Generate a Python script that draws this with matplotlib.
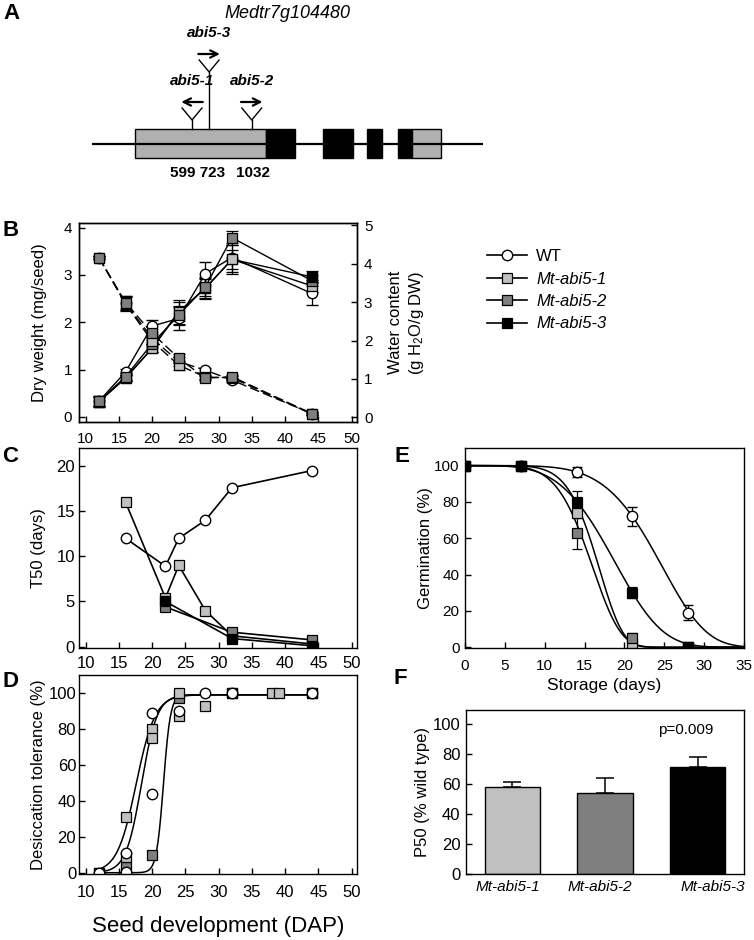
import numpy as np
import matplotlib
matplotlib.use('Agg')
import matplotlib.pyplot as plt
from matplotlib.lines import Line2D
from matplotlib.patches import Rectangle
import matplotlib.transforms as mtransforms

plt.rcParams['font.family'] = ['Liberation Sans', 'DejaVu Sans']
plt.rcParams['mathtext.fontset'] = 'custom'
plt.rcParams['mathtext.rm'] = 'Liberation Sans'
plt.rcParams['mathtext.default'] = 'regular'

# ---------------- data ----------------
# A: gene model of Medtr7g104480 (bp)
gene_span = [-126, 2709]
exon_start = [186, 1135, 1549, 1868, 2092, 2194]
exon_end = [1135, 1346, 1766, 1976, 2194, 2404]
exon_kind = ['utr', 'cds', 'cds', 'cds', 'cds', 'utr']
insert_pos = [599, 723, 1032]
insert_name = ['abi5-1', 'abi5-3', 'abi5-2']
insert_dir = [-1, 1, 1]
insert_tall = [False, True, False]

# B: dry weight (mg/seed) and water content (g H2O/g DW)
dap_b = [12, 16, 20, 24, 28, 32, 44]
dw_wt = [0.33, 0.95, 1.92, 2.08, 3.03, 3.37, 2.61]
dw_wt_err = [0.12, 0.07, 0.12, 0.25, 0.25, 0.30, 0.25]
dw_abi1 = [0.32, 0.82, 1.45, 2.22, 2.72, 3.33, 2.77]
dw_abi1_err = [0.10, 0.07, 0.08, 0.25, 0.22, 0.30, 0.12]
dw_abi2 = [0.33, 0.85, 1.55, 2.15, 2.75, 3.79, 2.88]
dw_abi2_err = [0.10, 0.07, 0.08, 0.20, 0.20, 0.15, 0.12]
dw_abi3 = [0.32, 0.82, 1.45, 2.22, 2.72, 3.33, 2.96]
dw_abi3_err = [0.10, 0.07, 0.08, 0.20, 0.20, 0.20, 0.12]
wc_wt = [4.16, 2.97, 2.06, 1.45, 1.23, 0.97, 0.10]
wc_abi1 = [4.16, 2.95, 1.98, 1.36, 1.05, 1.03, 0.09]
wc_abi2 = [4.16, 2.99, 2.19, 1.54, 1.02, 1.06, 0.10]
wc_err = [0.05, 0.18, 0.10, 0.12, 0.05, 0.05, 0.03]

# C: T50 (days)
dap_c_wt = [16, 22, 24, 28, 32, 44]
t50_wt = [12.0, 8.9, 12.0, 14.0, 17.6, 19.5]
dap_c_abi1 = [16, 22, 24, 28, 32, 44]
t50_abi1 = [16.0, 5.4, 9.0, 4.0, 1.2, 0.3]
dap_c_abi2 = [22, 32, 44]
t50_abi2 = [4.4, 1.6, 0.75]
dap_c_abi3 = [22, 32, 44]
t50_abi3 = [5.0, 0.9, 0.1]

# D: desiccation tolerance (%)
dap_d_wt = [12, 16, 16, 20, 20, 24, 28, 32, 44]
dt_wt = [0, 11, 0.5, 89, 44, 90, 100, 100, 100]
dap_d_abi1 = [12, 16, 16, 20, 20, 24, 24, 28, 32, 38, 39, 44]
dt_abi1 = [0, 31, 8.5, 80, 75, 100, 87, 93, 100, 100, 100, 100]
dap_d_abi2 = [12, 16, 20, 24, 32, 44]
dt_abi2 = [0, 3, 10, 97, 100, 100]
# fitted logistic curves: midpoint (DAP), slope, plateau (%)
dt_fit_mid = [17.6, 18.4, 21.7]
dt_fit_slope = [0.70, 0.85, 1.9]
dt_fit_top = [99, 99, 99]

# E: germination (%) after storage (days)
storage = [0, 7, 14, 21, 28]
germ_wt = [100, 100, 96.5, 72, 19]
germ_wt_err = [0, 1, 3, 5, 4]
germ_abi1 = [100, 100, 74, 1.7, 0]
germ_abi1_err = [0, 0, 3, 2, 0]
germ_abi2 = [100, 100, 63, 5, 0]
germ_abi2_err = [0, 0, 9, 3, 0]
germ_abi3 = [100, 100, 80, 30, 0]
germ_abi3_err = [0, 0, 6, 3, 0]
# fitted survival curves: scale (days), shape
germ_fit_scale = [25.7, 16.6, 17.3, 20.1]
germ_fit_shape = [5.5, 5.6, 6.8, 4.2]

# F: P50 (% wild type)
mutants = ['Mt-abi5-1', 'Mt-abi5-2', 'Mt-abi5-3']
p50 = [58, 54, 71]
p50_err = [3, 10, 7]

# ---------------- figure ----------------
W, H = 754, 940
fig = plt.figure(figsize=(W / 100, H / 100), dpi=100)

LIGHT = '#c0c0c0'
DARK = '#7f7f7f'
sty = {
    'wt': dict(marker='o', mfc='white', mec='k', ms=7.5, mew=1.0),
    'abi1': dict(marker='s', mfc=LIGHT, mec='k', ms=6.5, mew=0.9),
    'abi2': dict(marker='s', mfc=DARK, mec='k', ms=6.5, mew=0.9),
    'abi3': dict(marker='s', mfc='black', mec='k', ms=6.5, mew=0.9),
}


def px_axes(l, t, r, b):
    return fig.add_axes([l / W, 1 - b / H, (r - l) / W, (b - t) / H])


def style(ax, size, xpad, ypad):
    for s in ax.spines.values():
        s.set_linewidth(1.0)
    ax.tick_params(direction='in', length=4, width=1, labelsize=size)
    ax.tick_params(axis='x', pad=xpad)
    ax.tick_params(axis='y', pad=ypad)


# ---- A ----
axa = fig.add_axes([0, 1 - 185 / H, 1, 185 / H])
axa.set_xlim(-793, 4673)
axa.set_ylim(185, 0)
axa.axis('off')
axa.plot(gene_span, [144, 144], color='k', lw=1.6, solid_capstyle='butt')
for s, e, k in zip(exon_start, exon_end, exon_kind):
    axa.add_patch(Rectangle((s, 129), e - s, 29, fc='#b0b0b0' if k == 'utr' else 'k',
                            ec='k', lw=1.0))
for pos, name, d, tall in zip(insert_pos, insert_name, insert_dir, insert_tall):
    top = 72 if tall else 120
    axa.plot([pos, pos], [129, top], color='k', lw=1.0)
    axa.plot([pos - 72, pos, pos + 72], [top - 12, top, top - 12], color='k', lw=1.0)
    axa.annotate('', xy=(pos + d * 78, top - 18), xytext=(pos - d * 78, top - 18),
                 arrowprops=dict(arrowstyle='->', lw=1.6, color='k', shrinkA=0, shrinkB=0,
                                 mutation_scale=13))
    axa.text(pos, top - 39, name, ha='center', va='center', fontsize=11,
             fontstyle='italic', fontweight='bold')
axa.text((insert_pos[0] + insert_pos[1]) / 2 - 25, 173, '%d %d' % (insert_pos[0], insert_pos[1]),
         ha='center', va='center', fontsize=11, fontweight='bold')
axa.text(insert_pos[2] + 10, 173, str(insert_pos[2]), ha='center', va='center', fontsize=11,
         fontweight='bold')
axa.text(1288, 14, 'Medtr7g104480', ha='center', va='center', fontsize=13,
         fontstyle='italic')

# ---- B ----
axb = px_axes(79, 223, 357, 422)
axb2 = axb.twinx()
eb = dict(color='k', lw=1.0, capsize=4, elinewidth=0.9, capthick=0.9)
for y, e, k in [(dw_abi3, dw_abi3_err, 'abi3'), (dw_wt, dw_wt_err, 'wt'),
                (dw_abi1, dw_abi1_err, 'abi1'), (dw_abi2, dw_abi2_err, 'abi2')]:
    axb.errorbar(dap_b, y, yerr=e, **eb, **sty[k])
axb.errorbar(dap_b[-1:], dw_abi3[-1:], **eb, **sty['abi3'])
for y, k in [(wc_wt, 'wt'), (wc_abi1, 'abi1'), (wc_abi2, 'abi2')]:
    axb2.errorbar(dap_b, y, yerr=wc_err, ls=(0, (7, 3)), **eb, **sty[k])
axb.set_xlim(9.0, 50.8)
axb.set_ylim(-0.11, 4.1)
axb2.set_ylim(-0.12, 5.06)
axb.set_xticks(np.arange(10, 51, 5))
axb.set_yticks([0, 1, 2, 3, 4])
axb2.set_yticks([0, 1, 2, 3, 4, 5])
style(axb, 11, 7, 5)
style(axb2, 11, 7, 5)
axb.set_ylabel('Dry weight (mg/seed)', fontsize=12)
axb.yaxis.set_label_coords(-0.115, 0.5)
axb2.set_ylabel('Water content\n(g H$_2$O/g DW)', fontsize=12, linespacing=1.35)
axb2.yaxis.set_label_coords(1.11, 0.5)

handles = [Line2D([], [], color='k', lw=1.2, **sty[k]) for k in ['wt', 'abi1', 'abi2', 'abi3']]
leg = fig.legend(handles, ['WT', 'Mt-abi5-1', 'Mt-abi5-2', 'Mt-abi5-3'], loc='upper left',
                 bbox_to_anchor=(487 / W, 1 - 249 / H), frameon=False, borderpad=0,
                 borderaxespad=0, handlelength=2.4, handletextpad=0.55, labelspacing=0.45,
                 fontsize=12)
for t in leg.get_texts()[1:]:
    t.set_fontstyle('italic')

# ---- C ----
axc = px_axes(79, 448, 357, 648)
for x, y, k in [(dap_c_wt, t50_wt, 'wt'), (dap_c_abi1, t50_abi1, 'abi1'),
                (dap_c_abi2, t50_abi2, 'abi2'), (dap_c_abi3, t50_abi3, 'abi3')]:
    axc.plot(x, y, color='k', lw=1.2, **sty[k])
axc.set_xlim(9.0, 50.8)
axc.set_ylim(-0.15, 22)
axc.set_xticks(np.arange(10, 51, 5))
axc.set_yticks([0, 5, 10, 15, 20])
style(axc, 12, 6, 3)
axc.set_ylabel('T50 (days)', fontsize=12)
axc.yaxis.set_label_coords(-0.12, 0.5)

# ---- D ----
axd = px_axes(79, 675, 357, 874)
xs = np.linspace(12, 44, 300)
for m, s, top in zip(dt_fit_mid, dt_fit_slope, dt_fit_top):
    axd.plot(xs, top / (1 + np.exp(-s * (xs - m))), color='k', lw=1.1)
for x, y, k in [(dap_d_abi2, dt_abi2, 'abi2'), (dap_d_abi1, dt_abi1, 'abi1'),
                (dap_d_wt, dt_wt, 'wt')]:
    axd.plot(x, y, ls='none', **sty[k])
axd.set_xlim(9.0, 50.8)
axd.set_ylim(-0.7, 110)
axd.set_xticks(np.arange(10, 51, 5))
axd.set_yticks([0, 20, 40, 60, 80, 100])
style(axd, 12, 8, 2)
axd.set_ylabel('Desiccation tolerance (%)', fontsize=12)
axd.yaxis.set_label_coords(-0.12, 0.5)
axd.set_xlabel('Seed development (DAP)', fontsize=16)
axd.xaxis.set_label_coords(0.5, -0.21)

# ---- E ----
axe = px_axes(465, 448, 744, 648)
xe = np.linspace(0, 35, 300)
for c, b in zip(germ_fit_scale, germ_fit_shape):
    axe.plot(xe, 100 * np.exp(-(xe / c) ** b), color='k', lw=1.1)
for y, e, k in [(germ_abi1, germ_abi1_err, 'abi1'), (germ_abi2, germ_abi2_err, 'abi2'),
                (germ_wt, germ_wt_err, 'wt'), (germ_abi3, germ_abi3_err, 'abi3')]:
    axe.errorbar(storage, y, yerr=e, ls='none', color='k', capsize=3.5, elinewidth=0.9,
                 capthick=0.9, **sty[k])
axe.set_xlim(0, 35)
axe.set_ylim(-0.4, 109.7)
axe.set_xticks(np.arange(0, 36, 5))
axe.set_yticks([0, 20, 40, 60, 80, 100])
style(axe, 11, 8, 4)
axe.set_ylabel('Germination (%)', fontsize=12)
axe.yaxis.set_label_coords(-0.115, 0.5)
axe.set_xlabel('Storage (days)', fontsize=12.5)
axe.xaxis.set_label_coords(0.5, -0.15)

# ---- F ----
axf = px_axes(466, 710, 744, 874)
xb = np.arange(len(mutants))
axf.bar(xb, p50, width=0.6, color=[LIGHT, DARK, 'black'], edgecolor='k', lw=1.0)
axf.errorbar(xb, p50, yerr=[[0] * len(p50), p50_err], ls='none', color='k',
             elinewidth=1.1, capsize=6.5, capthick=1.1)
axf.text(1.87, 96, 'p=0.009', ha='center', va='center', fontsize=11)
axf.set_xlim(-0.5, 2.5)
axf.set_ylim(0, 109.3)
axf.set_xticks(xb)
axf.set_xticklabels(mutants, fontstyle='italic', fontsize=11)
axf.set_yticks([0, 20, 40, 60, 80, 100])
style(axf, 12, 4, 4)
axf.tick_params(axis='x', length=0, labelsize=11)
shifts = [-4, -5, 15]
for lab, dx in zip(axf.get_xticklabels(), shifts):
    lab.set_transform(lab.get_transform() + mtransforms.ScaledTranslation(dx / 100, 0, fig.dpi_scale_trans))
axf.set_ylabel('P50 (% wild type)', fontsize=12)
axf.yaxis.set_label_coords(-0.13, 0.5)

# panel letters
for letter, (x, y) in zip('ABCDEF', [(3, 3), (2, 220), (2, 446), (2, 671), (394, 446), (393, 668)]):
    fig.text(x / W, 1 - y / H, letter, fontsize=16, fontweight='bold', ha='left', va='top')

fig.savefig('out.png', dpi=100)
